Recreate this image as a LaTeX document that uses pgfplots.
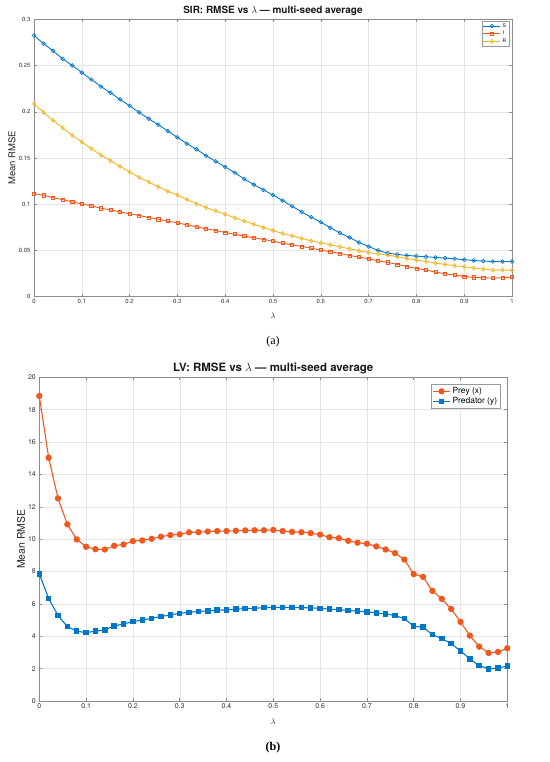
\documentclass[border=0pt]{standalone}
\usepackage{pgfplots}
\pgfplotsset{compat=1.18}
\usepackage{pgfplotstable}
\usepackage{fontspec}
\setmainfont{TeX Gyre Heros}
\newfontfamily\capfont{Liberation Serif}
\definecolor{mblue}{RGB}{0,118,200}
\definecolor{morange}{RGB}{240,88,30}
\definecolor{myellow}{RGB}{240,180,30}

\pgfplotstableread{
x S I R
0.00 0.2824 0.1115 0.2086
0.02 0.2737 0.1097 0.1993
0.04 0.2658 0.1072 0.1906
0.06 0.2572 0.1050 0.1827
0.08 0.2500 0.1025 0.1745
0.10 0.2424 0.1004 0.1673
0.12 0.2349 0.0982 0.1601
0.14 0.2273 0.0957 0.1532
0.16 0.2205 0.0939 0.1471
0.18 0.2133 0.0917 0.1410
0.20 0.2065 0.0896 0.1349
0.22 0.1993 0.0878 0.1291
0.24 0.1924 0.0856 0.1240
0.26 0.1860 0.0838 0.1189
0.28 0.1791 0.0817 0.1140
0.30 0.1723 0.0799 0.1099
0.32 0.1655 0.0777 0.1052
0.34 0.1594 0.0755 0.1004
0.36 0.1525 0.0734 0.0964
0.38 0.1464 0.0716 0.0928
0.40 0.1403 0.0694 0.0892
0.42 0.1342 0.0676 0.0853
0.44 0.1272 0.0655 0.0817
0.46 0.1212 0.0637 0.0784
0.48 0.1155 0.0619 0.0748
0.50 0.1100 0.0601 0.0716
0.52 0.1040 0.0579 0.0683
0.54 0.0978 0.0561 0.0658
0.56 0.0917 0.0543 0.0630
0.58 0.0860 0.0525 0.0604
0.60 0.0806 0.0504 0.0583
0.62 0.0745 0.0486 0.0561
0.64 0.0690 0.0468 0.0540
0.66 0.0640 0.0446 0.0518
0.68 0.0586 0.0428 0.0496
0.70 0.0543 0.0410 0.0478
0.72 0.0500 0.0388 0.0464
0.74 0.0471 0.0371 0.0450
0.76 0.0457 0.0349 0.0432
0.78 0.0446 0.0327 0.0414
0.80 0.0439 0.0306 0.0396
0.82 0.0432 0.0288 0.0381
0.84 0.0424 0.0266 0.0363
0.86 0.0417 0.0248 0.0349
0.88 0.0410 0.0234 0.0335
0.90 0.0400 0.0219 0.0324
0.92 0.0392 0.0209 0.0310
0.94 0.0385 0.0205 0.0299
0.96 0.0381 0.0201 0.0288
0.98 0.0380 0.0205 0.0288
1.00 0.0380 0.0212 0.0288
}\sirtable

\pgfplotstableread{
x prey pred
0.00 18.85 7.86
0.02 15.03 6.33
0.04 12.52 5.28
0.06 10.91 4.60
0.08 9.98 4.31
0.10 9.53 4.23
0.12 9.38 4.31
0.14 9.36 4.39
0.16 9.59 4.64
0.18 9.67 4.76
0.20 9.88 4.91
0.22 9.92 4.99
0.24 10.02 5.11
0.26 10.15 5.22
0.28 10.25 5.32
0.30 10.30 5.42
0.32 10.42 5.48
0.34 10.43 5.53
0.36 10.47 5.57
0.38 10.50 5.61
0.40 10.50 5.63
0.42 10.52 5.67
0.44 10.54 5.71
0.46 10.55 5.73
0.48 10.55 5.77
0.50 10.57 5.79
0.52 10.50 5.77
0.54 10.45 5.77
0.56 10.43 5.77
0.58 10.37 5.75
0.60 10.28 5.73
0.62 10.12 5.67
0.64 10.06 5.65
0.66 9.90 5.59
0.68 9.78 5.55
0.70 9.72 5.51
0.72 9.55 5.44
0.74 9.36 5.38
0.76 9.14 5.28
0.78 8.74 5.09
0.80 7.84 4.62
0.82 7.67 4.56
0.84 6.80 4.10
0.86 6.31 3.86
0.88 5.69 3.55
0.90 4.89 3.09
0.92 4.04 2.60
0.94 3.36 2.19
0.96 2.97 1.98
0.98 3.03 2.04
1.00 3.26 2.16
}\lvtable

\pgfplotsset{
  every axis title shift=0pt,
  mstyle/.style={
    scale only axis,
    xmin=0, xmax=1,
    xtick={0,0.1,0.2,0.3,0.4,0.5,0.6,0.7,0.8,0.9,1},
    xticklabels={0,0.1,0.2,0.3,0.4,0.5,0.6,0.7,0.8,0.9,1},
    grid=major,
    grid style={black!10, line width=0.4pt},
    axis line style={black!45, line width=0.5pt},
    tick style={black!45, line width=0.5pt},
    tick align=inside,
    major tick length=3bp,
    ticklabel style={text=black!80},
    label style={text=black!85},
    legend cell align=left,
  }
}

\begin{document}
\begin{tikzpicture}
\useasboundingbox (0,0) rectangle (550bp,762bp);

% ---------- (a) SIR ----------
\begin{axis}[mstyle,
  at={(34bp,465.3bp)}, anchor=south west,
  width=478bp, height=277.4bp,
  ymin=0, ymax=0.3,
  ytick={0,0.05,0.1,0.15,0.2,0.25,0.3},
  yticklabels={0,0.05,0.1,0.15,0.2,0.25,0.3},
  ticklabel style={font=\fontsize{6}{7}\selectfont},
  xticklabel style={yshift=1bp},
  title={SIR: RMSE vs $\lambda$ --- multi-seed average},
  title style={font=\fontsize{10}{12}\selectfont\bfseries, at={(axis description cs:0.5,1.03)}, anchor=center, yshift=0pt, text=black!90},
  xlabel={$\lambda$},
  xlabel style={font=\fontsize{8}{9}\selectfont, at={(axis description cs:0.5,-0.07)}, anchor=center},
  ylabel={Mean RMSE},
  ylabel style={font=\fontsize{9.5}{11}\selectfont, at={(axis description cs:-0.046,0.5)}, anchor=center},
  legend style={at={(1,1)}, anchor=north east, xshift=-3bp, yshift=-1.5bp,
    font=\fontsize{5}{6}\selectfont, draw=black!40, fill=white,
    inner sep=0.5bp, row sep=-1.5bp, line width=0.4pt},
  legend image post style={line width=0.8pt},
]
\addplot[mblue, line width=0.9pt, mark=o, mark size=1.9bp, mark options={line width=0.6pt}] table[x=x,y=S]{\sirtable};
\addlegendentry{S}
\addplot[morange, line width=0.9pt, mark=square, mark size=1.6bp, mark options={line width=0.6pt}] table[x=x,y=I]{\sirtable};
\addlegendentry{I}
\addplot[myellow, line width=0.9pt, mark=diamond, mark size=2.1bp, mark options={line width=0.6pt}] table[x=x,y=R]{\sirtable};
\addlegendentry{R}
\end{axis}

\node[font=\capfont\fontsize{12}{14}\selectfont] at (273bp,420.3bp) {(a)};

% ---------- (b) LV ----------
\begin{axis}[mstyle,
  at={(39.3bp,61bp)}, anchor=south west,
  width=468bp, height=323.7bp,
  ymin=0, ymax=20,
  ytick={0,2,4,6,8,10,12,14,16,18,20},
  yticklabels={0,2,4,6,8,10,12,14,16,18,20},
  ticklabel style={font=\fontsize{7}{8}\selectfont},
  xticklabel style={yshift=0.5bp},
  title={LV: RMSE vs $\lambda$ --- multi-seed average},
  title style={font=\fontsize{11.5}{13}\selectfont\bfseries, at={(axis description cs:0.5,1.026)}, anchor=center, yshift=0pt, text=black!90},
  xlabel={$\lambda$},
  xlabel style={font=\fontsize{8}{9}\selectfont, at={(axis description cs:0.5,-0.065)}, anchor=center},
  ylabel={Mean RMSE},
  ylabel style={font=\fontsize{10.5}{12}\selectfont, at={(axis description cs:-0.039,0.5)}, anchor=center},
  legend style={at={(1,1)}, anchor=north east, xshift=-7bp, yshift=-7bp,
    font=\fontsize{8.5}{10}\selectfont, draw=black!40, fill=white,
    inner sep=1bp, row sep=-1.5bp, line width=0.4pt},
  legend image post style={line width=1pt},
]
\addplot[morange, line width=1.1pt, mark=*, mark size=2.6bp] table[x=x,y=prey]{\lvtable};
\addlegendentry{Prey (x)}
\addplot[mblue, line width=1.1pt, mark=square*, mark size=2.2bp] table[x=x,y=pred]{\lvtable};
\addlegendentry{Predator (y)}
\end{axis}

\node[font=\capfont\bfseries\fontsize{12}{14}\selectfont] at (273bp,14bp) {(b)};
\end{tikzpicture}
\end{document}
